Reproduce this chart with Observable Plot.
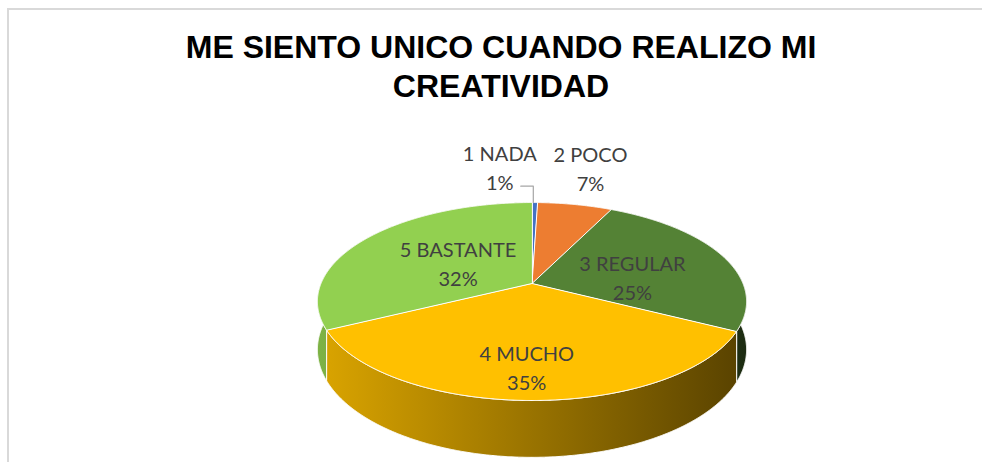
<!DOCTYPE html>
<html><head><meta charset="utf-8">
<script src="https://cdn.jsdelivr.net/npm/d3@7"></script>
<script src="https://cdn.jsdelivr.net/npm/@observablehq/plot@0.6"></script>
<style>
html,body{margin:0;padding:0;background:#fff;overflow:hidden;}
#page{position:relative;width:982px;height:462px;}
#frame{position:absolute;left:7px;top:8px;right:0;bottom:0;border-top:2px solid #d9d9d9;border-left:2px solid #d9d9d9;}
#title{position:absolute;left:0;top:28px;width:982px;text-align:center;font:bold 32px/38.5px "Liberation Sans", Arial, sans-serif;color:#000;transform:translateX(10px);}
#chart{position:absolute;left:0;top:115px;}
</style></head>
<body><div id="page"><div id="frame"></div><div id="title"></div><div id="chart"></div></div>
<script>
// ---- data ----
const titleLines = ["ME SIENTO UNICO CUANDO REALIZO MI", "CREATIVIDAD"];
const categories = ["1 NADA", "2 POCO", "3 REGULAR", "4 MUCHO", "5 BASTANTE"];
const values = [0.5, 6.7, 25.4, 35.0, 32.4];
const percentLabels = ["1%", "7%", "25%", "35%", "32%"];
const sliceColors = ["#4472C4", "#ED7D31", "#548235", "#FFC000", "#92D050"];
const labelRadius = [1.59, 1.6, 0.49, 0.745, 0.434];
const labelTurn = [-8, -1, 8.7, 1.3, 1];

document.getElementById("title").innerHTML = titleLines.join("<br>");

// ---- 3D pie geometry (perspective projection of a tilted disc) ----
const cx = 531.5, cy = 283, R = 211, Rk = 95.7, p = 0.182, T = 46.5;
const rad = Math.PI / 180;
function proj(theta, r, depth = 0) {
  const X = r * Math.sin(theta), Z = r * Math.cos(theta), w = 1 + p * Z;
  return {x: cx + R * X / w, y: cy - (Rk * Z - depth * T) / w};
}
const arcs = d3.pie().sort(null).value(d => d)(values);
const step = 0.25 * rad;
function angles(a0, a1) {
  const n = Math.max(2, Math.ceil((a1 - a0) / step));
  return d3.range(n + 1).map(i => a0 + (a1 - a0) * i / n);
}

const topRows = [], wallRows = [];
const order = arcs.map((a, i) => i)
  .sort((i, j) => Math.cos((arcs[j].startAngle + arcs[j].endAngle) / 2) - Math.cos((arcs[i].startAngle + arcs[i].endAngle) / 2));
arcs.forEach((a, i) => {
  const angs = angles(a.startAngle, a.endAngle);
  topRows.push({id: i, fill: sliceColors[i], ...proj(0, 0)});
  angs.forEach(t => topRows.push({id: i, fill: sliceColors[i], ...proj(t, 1)}));
});
order.forEach(i => {
  const a = arcs[i];
  const angs = angles(a.startAngle, a.endAngle);
  angs.forEach(t => wallRows.push({id: i, fill: `url(#wall-${i})`, ...proj(t, 1, 0)}));
  angs.slice().reverse().forEach(t => wallRows.push({id: i, fill: `url(#wall-${i})`, ...proj(t, 1, 1)}));
});

const labelRows = arcs.map((a, i) => {
  const mid = (a.startAngle + a.endAngle) / 2 + labelTurn[i] * rad;
  return {...proj(mid, labelRadius[i]), text: categories[i] + "\n" + percentLabels[i]};
});
// leader line for the tiny first slice
const l0 = labelRows[0];
const edge0 = proj((arcs[0].startAngle + arcs[0].endAngle) / 2, 1);
const leaderRows = [
  {x: l0.x + 21, y: l0.y + 20},
  {x: edge0.x - 1.5, y: l0.y + 20},
  {x: edge0.x - 1.5, y: edge0.y}
];

const halfW = R / Math.sqrt(1 - p * p);

const svg = Plot.plot({
  width: 982, height: 347, margin: 0,
  x: {domain: [0, 982], range: [0, 982], axis: null},
  y: {domain: [115, 462], range: [0, 347], axis: null},
  color: {type: "identity"},
  style: {background: "transparent", overflow: "visible"},
  marks: [
    Plot.line(wallRows, {x: "x", y: "y", z: "id", fill: "fill", stroke: "white", strokeWidth: 1, curve: "linear-closed"}),
    Plot.line(topRows, {x: "x", y: "y", z: "id", fill: "fill", stroke: "white", strokeWidth: 1, curve: "linear-closed"}),
    Plot.line(leaderRows, {x: "x", y: "y", stroke: "#a6a6a6", strokeWidth: 1.2}),
    Plot.text(labelRows, {x: "x", y: "y", text: "text", fontSize: 20, fontFamily: "Lato", fill: "#404040", lineHeight: 1.45})
  ]
});

// side-wall shading gradients
const defs = d3.select(svg).insert("defs", ":first-child");
sliceColors.forEach((c, i) => {
  const base = d3.rgb(c);
  const shade = k => d3.rgb(base.r * k, base.g * k, base.b * k).formatHex();
  const g = defs.append("linearGradient").attr("id", `wall-${i}`)
    .attr("gradientUnits", "userSpaceOnUse")
    .attr("x1", cx - halfW).attr("x2", cx + halfW).attr("y1", 0).attr("y2", 0);
  g.append("stop").attr("offset", 0).attr("stop-color", shade(0.86));
  g.append("stop").attr("offset", 1).attr("stop-color", shade(0.34));
});
document.getElementById("chart").appendChild(svg);
</script>
</body></html>
